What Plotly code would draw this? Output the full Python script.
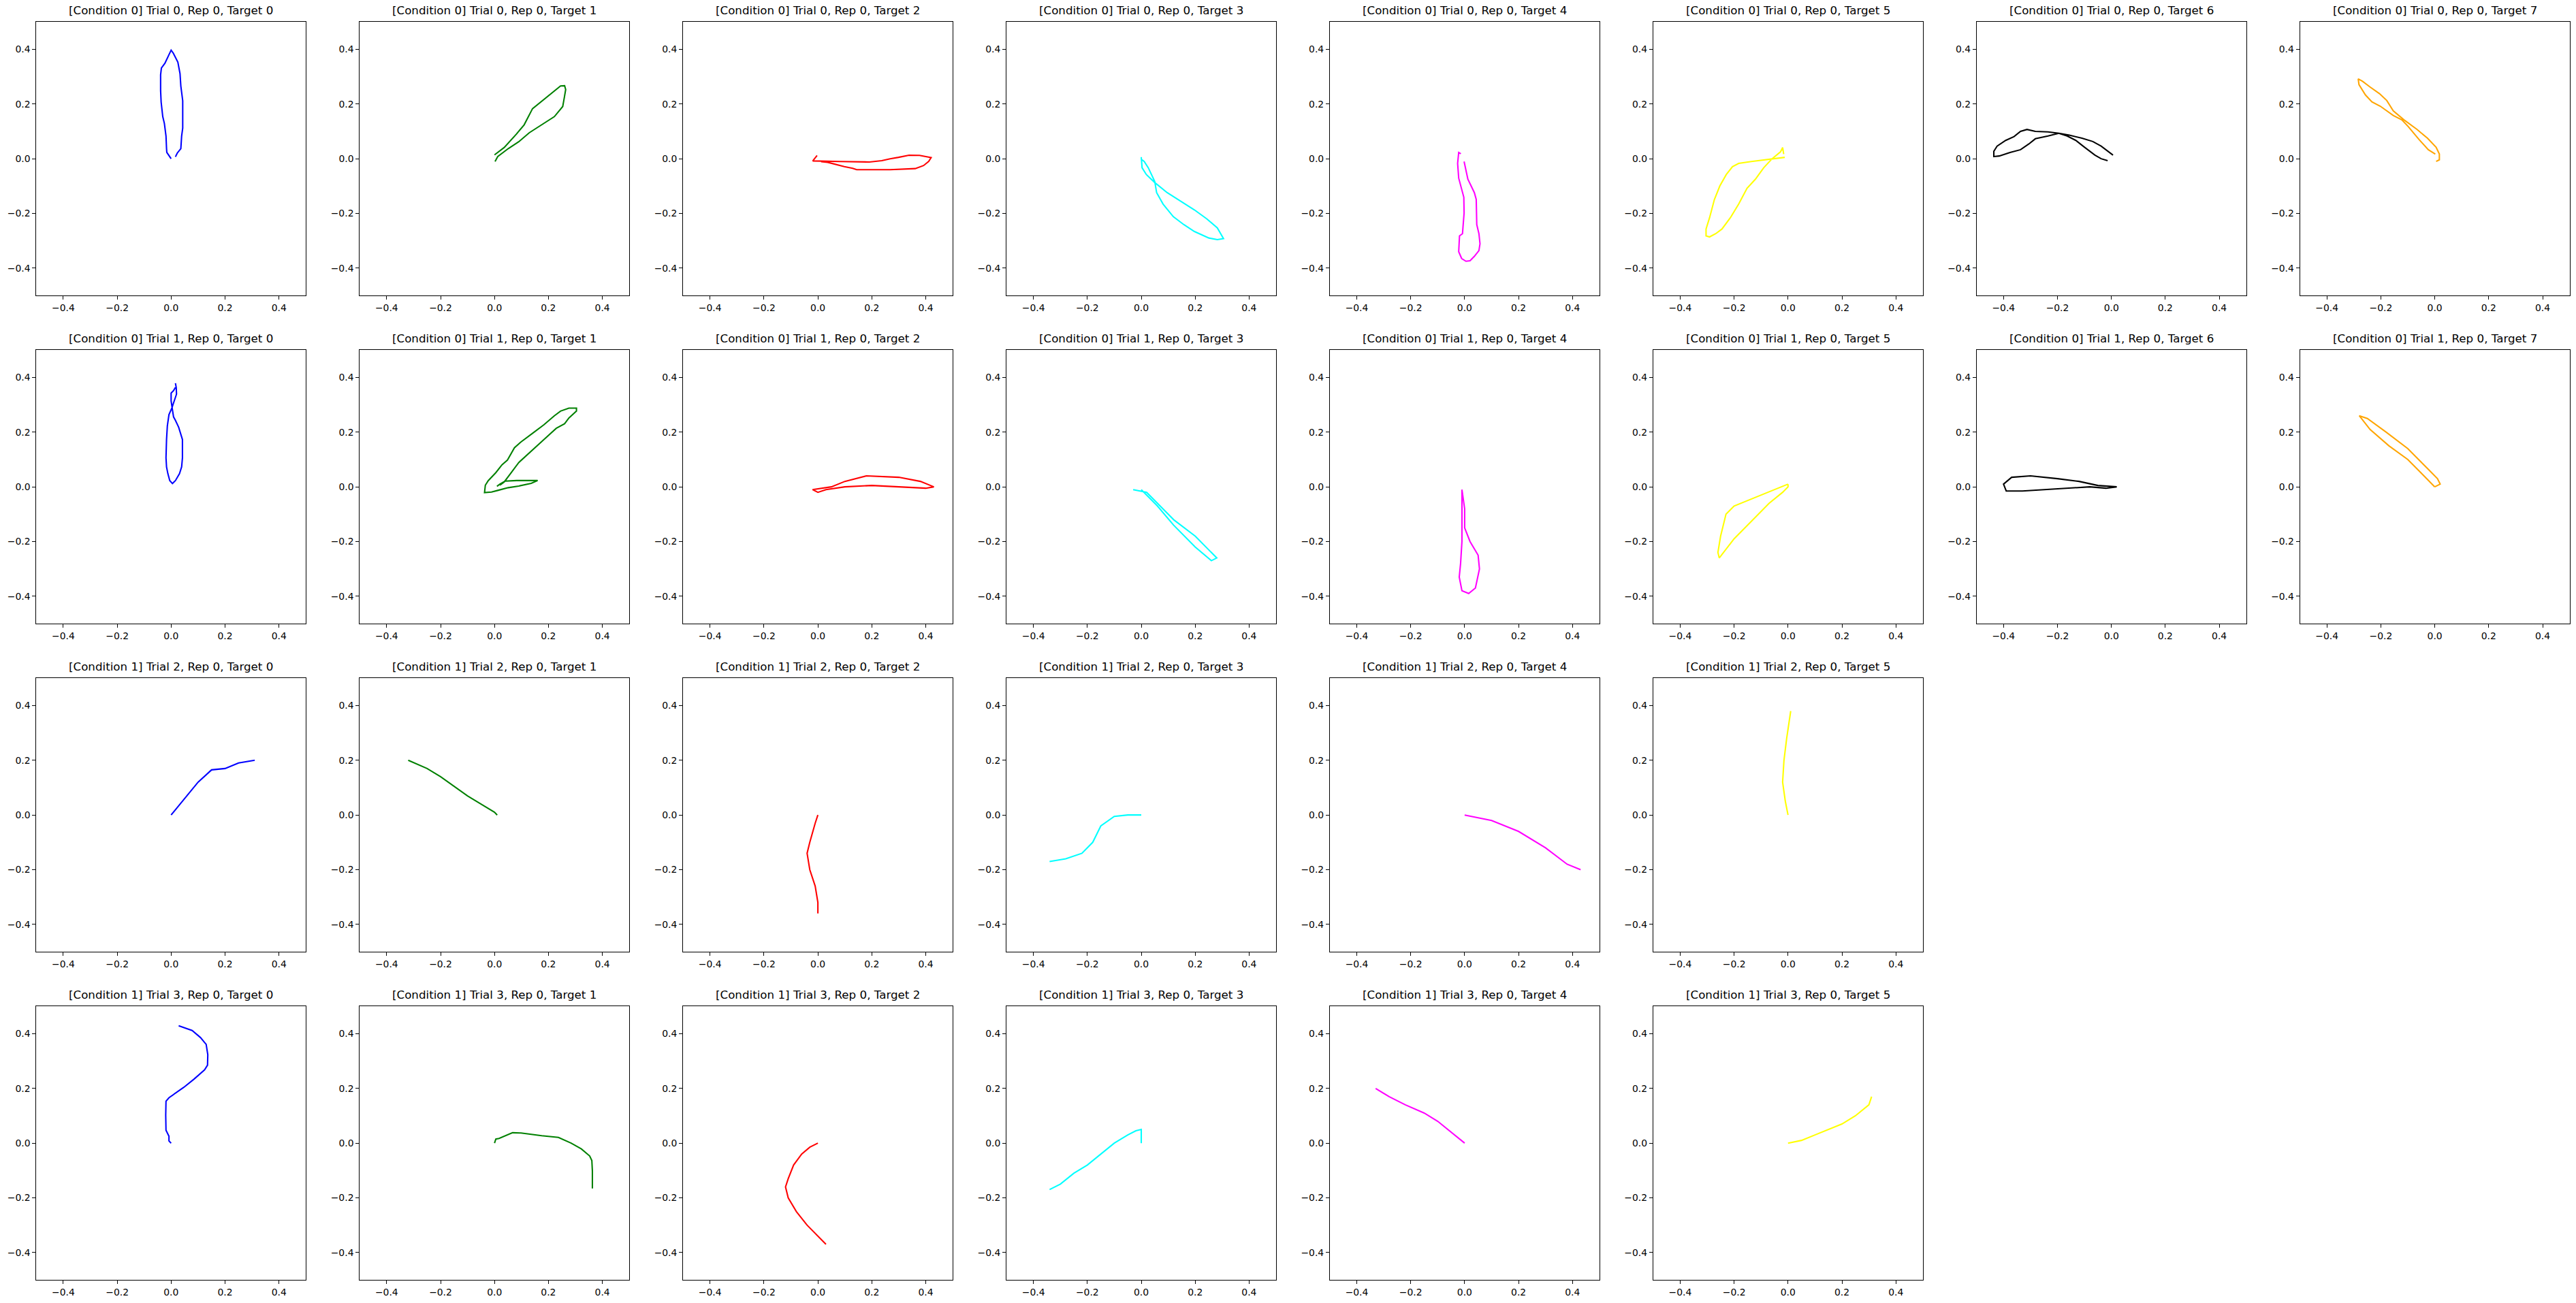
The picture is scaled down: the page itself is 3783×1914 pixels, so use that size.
import plotly.graph_objects as go

# ---------------- data ----------------
COLORS = ["blue", "green", "red", "cyan", "magenta", "yellow", "black", "orange"]
TICKS = [-0.4, -0.2, 0.0, 0.2, 0.4]

# Condition 0, Trial 0
traj_t0_tg0 = [(0, 0), (-0.016, 0.023), (-0.017, 0.037), (-0.019, 0.083), (-0.025, 0.129), (-0.031, 0.154),
               (-0.037, 0.207), (-0.039, 0.249), (-0.039, 0.307), (-0.036, 0.332), (-0.023, 0.349),
               (-0.011, 0.373), (0, 0.397), (0.008, 0.386), (0.025, 0.353), (0.033, 0.311), (0.036, 0.266),
               (0.043, 0.212), (0.043, 0.112), (0.039, 0.083), (0.036, 0.037), (0.023, 0.021), (0.016, 0.007)]
traj_t0_tg1 = [(0, 0.014), (0.036, 0.041), (0.082, 0.091), (0.110, 0.124), (0.141, 0.183), (0.191, 0.224),
               (0.222, 0.249), (0.245, 0.266), (0.26, 0.267), (0.264, 0.253), (0.259, 0.224), (0.253, 0.191),
               (0.222, 0.154), (0.175, 0.124), (0.129, 0.095), (0.090, 0.062), (0.051, 0.037), (0.012, 0.008),
               (0.002, -0.010)]
traj_t0_tg2 = [(-0.003, 0.012), (-0.019, -0.008), (0.082, -0.010), (0.191, -0.012), (0.237, -0.007), (0.268, 0),
               (0.299, 0.005), (0.338, 0.013), (0.377, 0.012), (0.42, 0.004), (0.411, -0.010), (0.392, -0.025),
               (0.361, -0.036), (0.268, -0.040), (0.144, -0.040), (0.129, -0.035), (0.098, -0.029),
               (0.067, -0.021), (0.036, -0.013), (0.012, -0.011)]
traj_t0_tg3 = [(0, 0.006), (0.003, -0.033), (0.019, -0.058), (0.050, -0.087), (0.096, -0.124), (0.150, -0.158),
               (0.197, -0.187), (0.243, -0.220), (0.282, -0.253), (0.305, -0.292), (0.282, -0.296),
               (0.251, -0.290), (0.197, -0.266), (0.158, -0.241), (0.119, -0.212), (0.081, -0.166),
               (0.057, -0.124), (0.050, -0.083), (0.026, -0.033), (0.011, -0.010), (0.003, -0.004)]
traj_t0_tg4 = [(-0.002, -0.010), (0.012, -0.075), (0.036, -0.124), (0.043, -0.149), (0.045, -0.241),
               (0.053, -0.274), (0.057, -0.311), (0.053, -0.336), (0.036, -0.357), (0.020, -0.373),
               (0.005, -0.375), (-0.011, -0.365), (-0.022, -0.340), (-0.019, -0.282), (-0.008, -0.274),
               (-0.002, -0.199), (-0.003, -0.141), (-0.014, -0.100), (-0.022, -0.071), (-0.026, -0.017),
               (-0.022, 0.023), (-0.014, 0.018)]
traj_t0_tg5 = [(-0.012, 0.005), (-0.059, 0), (-0.136, -0.010), (-0.183, -0.017), (-0.206, -0.029),
               (-0.229, -0.058), (-0.253, -0.100), (-0.273, -0.149), (-0.291, -0.216), (-0.304, -0.257),
               (-0.304, -0.282), (-0.291, -0.286), (-0.268, -0.274), (-0.245, -0.257), (-0.214, -0.216),
               (-0.183, -0.166), (-0.152, -0.108), (-0.121, -0.075), (-0.090, -0.033), (-0.059, 0),
               (-0.028, 0.025), (-0.020, 0.041), (-0.016, 0.017)]
traj_t0_tg6 = [(0.006, 0.013), (-0.014, 0.027), (-0.038, 0.046), (-0.069, 0.063), (-0.109, 0.075),
               (-0.156, 0.086), (-0.195, 0.093), (-0.235, 0.098), (-0.282, 0.100), (-0.313, 0.107),
               (-0.337, 0.100), (-0.361, 0.081), (-0.392, 0.067), (-0.424, 0.046), (-0.436, 0.027),
               (-0.436, 0.008), (-0.416, 0.010), (-0.376, 0.023), (-0.337, 0.033), (-0.306, 0.054),
               (-0.282, 0.073), (-0.235, 0.083), (-0.195, 0.093), (-0.164, 0.083), (-0.132, 0.067),
               (-0.101, 0.043), (-0.061, 0.013), (-0.038, 0), (-0.014, -0.007)]
traj_t0_tg7 = [(0.002, 0.017), (-0.024, 0.033), (-0.059, 0.071), (-0.098, 0.117), (-0.122, 0.142),
               (-0.154, 0.158), (-0.202, 0.192), (-0.233, 0.208), (-0.257, 0.233), (-0.281, 0.271),
               (-0.284, 0.292), (-0.268, 0.283), (-0.241, 0.263), (-0.205, 0.238), (-0.178, 0.213),
               (-0.154, 0.175), (-0.114, 0.142), (-0.067, 0.108), (-0.027, 0.075), (0.005, 0.042),
               (0.017, 0.017), (0.017, -0.004), (0.005, -0.010)]

# Condition 0, Trial 1
traj_t1_tg0 = [(0.016, 0.379), (0.019, 0.363), (0.020, 0.339), (0.012, 0.314), (0.003, 0.289), (-0.008, 0.264),
               (-0.014, 0.223), (-0.017, 0.173), (-0.019, 0.106), (-0.017, 0.073), (-0.012, 0.048),
               (-0.005, 0.023), (0.005, 0.012), (0.016, 0.023), (0.031, 0.048), (0.039, 0.073), (0.042, 0.106),
               (0.042, 0.173), (0.034, 0.198), (0.028, 0.218), (0.016, 0.243), (0.009, 0.256), (0.005, 0.281),
               (0, 0.314), (0, 0.343), (0.009, 0.352), (0.016, 0.364)]
traj_t1_tg1 = [(0.009, 0.002), (0.020, 0.010), (0.039, 0.021), (0.082, 0.023), (0.160, 0.023), (0.136, 0.013),
               (0.090, 0.003), (0.051, -0.003), (0.012, -0.013), (-0.011, -0.019), (-0.037, -0.021),
               (-0.034, 0.006), (-0.023, 0.023), (0.005, 0.052), (0.028, 0.081), (0.048, 0.098), (0.074, 0.143),
               (0.098, 0.164), (0.144, 0.198), (0.183, 0.227), (0.222, 0.260), (0.245, 0.277), (0.276, 0.288),
               (0.304, 0.288), (0.304, 0.277), (0.276, 0.252), (0.260, 0.231), (0.229, 0.214), (0.183, 0.173),
               (0.129, 0.123), (0.090, 0.089), (0.059, 0.048), (0.036, 0.018), (0.020, 0.006)]
traj_t1_tg2 = [(-0.02, -0.01), (0.05, 0.0), (0.1, 0.02), (0.18, 0.04), (0.3, 0.035), (0.38, 0.02), (0.43, 0.0),
               (0.40, -0.005), (0.3, 0.0), (0.2, 0.005), (0.1, 0.0), (0.03, -0.01), (0.0, -0.02), (-0.02, -0.01)]
traj_t1_tg3 = [(-0.03, -0.01), (0.02, -0.02), (0.06, -0.06), (0.12, -0.12), (0.2, -0.18), (0.25, -0.23),
               (0.28, -0.26), (0.26, -0.27), (0.2, -0.22), (0.12, -0.14), (0.06, -0.07), (0.02, -0.03),
               (0.0, -0.01)]
traj_t1_tg4 = [(-0.01, -0.01), (0.0, -0.08), (0.0, -0.15), (0.02, -0.2), (0.05, -0.25), (0.055, -0.3),
               (0.04, -0.37), (0.015, -0.39), (-0.01, -0.38), (-0.02, -0.33), (-0.015, -0.28), (-0.01, -0.2),
               (-0.01, -0.1), (-0.01, -0.01)]
traj_t1_tg5 = [(0.0, 0.01), (-0.05, -0.01), (-0.1, -0.03), (-0.2, -0.07), (-0.23, -0.1), (-0.25, -0.18),
               (-0.26, -0.24), (-0.255, -0.26), (-0.2, -0.19), (-0.13, -0.12), (-0.07, -0.06), (-0.02, -0.02),
               (0.0, 0.0), (0.0, 0.01)]
traj_t1_tg6 = [(0.02, 0.0), (-0.05, 0.005), (-0.12, 0.02), (-0.2, 0.03), (-0.3, 0.04), (-0.37, 0.035),
               (-0.4, 0.01), (-0.39, -0.015), (-0.33, -0.015), (-0.25, -0.01), (-0.15, -0.005), (-0.08, 0.0),
               (-0.02, -0.005), (0.02, 0.0)]
traj_t1_tg7 = [(0.0, 0.0), (-0.05, 0.05), (-0.1, 0.1), (-0.17, 0.15), (-0.24, 0.21), (-0.28, 0.26),
               (-0.25, 0.25), (-0.18, 0.2), (-0.1, 0.14), (-0.03, 0.07), (0.01, 0.03), (0.02, 0.01), (0.0, 0.0)]

# Condition 1, Trial 2
traj_t2_tg0 = [(0, 0), (0.05, 0.06), (0.1, 0.12), (0.15, 0.165), (0.2, 0.17), (0.25, 0.19), (0.31, 0.2)]
traj_t2_tg1 = [(0.01, 0.0), (0.0, 0.01), (-0.05, 0.04), (-0.1, 0.07), (-0.2, 0.14), (-0.25, 0.17), (-0.32, 0.2)]
traj_t2_tg2 = [(0, 0), (-0.01, -0.03), (-0.03, -0.1), (-0.04, -0.14), (-0.03, -0.2), (-0.01, -0.26),
               (0.0, -0.32), (0.0, -0.36)]
traj_t2_tg3 = [(0, 0), (-0.05, 0.0), (-0.1, -0.005), (-0.15, -0.04), (-0.18, -0.1), (-0.22, -0.14),
               (-0.28, -0.16), (-0.34, -0.17)]
traj_t2_tg4 = [(0, 0), (0.1, -0.02), (0.2, -0.06), (0.3, -0.12), (0.38, -0.18), (0.43, -0.2)]
traj_t2_tg5 = [(0, 0), (-0.01, 0.05), (-0.02, 0.12), (-0.015, 0.2), (-0.005, 0.28), (0.005, 0.34), (0.01, 0.38)]

# Condition 1, Trial 3
traj_t3_tg0 = [(0, 0), (-0.008, 0.008), (-0.008, 0.025), (-0.019, 0.047), (-0.020, 0.102), (-0.019, 0.153),
               (-0.008, 0.166), (0.016, 0.183), (0.047, 0.204), (0.085, 0.234), (0.124, 0.268), (0.135, 0.285),
               (0.136, 0.323), (0.130, 0.361), (0.109, 0.386), (0.078, 0.412), (0.054, 0.420), (0.028, 0.429)]
traj_t3_tg1 = [(0, 0), (0.005, 0.015), (0.017, 0.017), (0.067, 0.038), (0.098, 0.037), (0.175, 0.027),
               (0.237, 0.021), (0.284, 0), (0.322, -0.021), (0.353, -0.047), (0.361, -0.064), (0.363, -0.102),
               (0.363, -0.166)]
traj_t3_tg2 = [(0, 0), (-0.03, -0.015), (-0.06, -0.04), (-0.09, -0.08), (-0.11, -0.13), (-0.12, -0.16),
               (-0.11, -0.2), (-0.08, -0.25), (-0.04, -0.3), (0.0, -0.34), (0.03, -0.37)]
traj_t3_tg3 = [(0.0, 0.0), (0.0, 0.05), (-0.02, 0.045), (-0.05, 0.03), (-0.1, 0.0), (-0.15, -0.04),
               (-0.2, -0.08), (-0.25, -0.11), (-0.3, -0.15), (-0.34, -0.17)]
traj_t3_tg4 = [(0, 0), (-0.05, 0.04), (-0.1, 0.08), (-0.15, 0.11), (-0.22, 0.14), (-0.28, 0.17), (-0.33, 0.2)]
traj_t3_tg5 = [(0, 0), (0.05, 0.01), (0.1, 0.03), (0.15, 0.05), (0.2, 0.07), (0.25, 0.1), (0.3, 0.14),
               (0.31, 0.17)]

ROWS = [
    (0, 0, [traj_t0_tg0, traj_t0_tg1, traj_t0_tg2, traj_t0_tg3, traj_t0_tg4, traj_t0_tg5, traj_t0_tg6, traj_t0_tg7]),
    (0, 1, [traj_t1_tg0, traj_t1_tg1, traj_t1_tg2, traj_t1_tg3, traj_t1_tg4, traj_t1_tg5, traj_t1_tg6, traj_t1_tg7]),
    (1, 2, [traj_t2_tg0, traj_t2_tg1, traj_t2_tg2, traj_t2_tg3, traj_t2_tg4, traj_t2_tg5]),
    (1, 3, [traj_t3_tg0, traj_t3_tg1, traj_t3_tg2, traj_t3_tg3, traj_t3_tg4, traj_t3_tg5]),
]

# ---------------- layout ----------------
W, H = 3783, 1914
LEFT0, COLSTEP, AXW = 53.3, 474.9, 396.0
TOP0, ROWSTEP, AXH = 32.3, 482.0, 401.7
FONT = "DejaVu Sans"

fig = go.Figure()
annotations = []
n = 0
for r, (cond, trial, trajs) in enumerate(ROWS):
    for c, pts in enumerate(trajs):
        n += 1
        sfx = "" if n == 1 else str(n)
        x0 = LEFT0 + c * COLSTEP
        y0 = TOP0 + r * ROWSTEP
        xd = [x0 / W, (x0 + AXW) / W]
        yd = [1 - (y0 + AXH) / H, 1 - y0 / H]
        axis_common = dict(
            range=[-0.5, 0.5], tickvals=TICKS, tickformat=".1f", ticks="outside", ticklen=4.9,
            tickwidth=1.1, tickcolor="black", showline=True, linecolor="black", linewidth=1.1,
            mirror=True, showgrid=False, zeroline=False,
            tickfont=dict(family=FONT, size=13.9, color="black"), fixedrange=True,
        )
        fig.update_layout(**{
            "xaxis" + sfx: dict(domain=xd, anchor="y" + sfx, **axis_common),
            "yaxis" + sfx: dict(domain=yd, anchor="x" + sfx, **axis_common),
        })
        fig.add_trace(go.Scatter(
            x=[p[0] for p in pts], y=[p[1] for p in pts], mode="lines",
            line=dict(color=COLORS[c], width=2.08), xaxis="x" + sfx, yaxis="y" + sfx,
            showlegend=False, hoverinfo="skip",
        ))
        annotations.append(dict(
            text=f"[Condition {cond}] Trial {trial}, Rep 0, Target {c}",
            x=(xd[0] + xd[1]) / 2, y=yd[1], xref="paper", yref="paper",
            xanchor="center", yanchor="bottom", yshift=5, showarrow=False,
            font=dict(family=FONT, size=16.7, color="black"),
        ))

fig.update_layout(
    width=W, height=H, margin=dict(l=0, r=0, t=0, b=0),
    paper_bgcolor="white", plot_bgcolor="white",
    annotations=annotations, showlegend=False,
)
fig.write_html("out.html")
